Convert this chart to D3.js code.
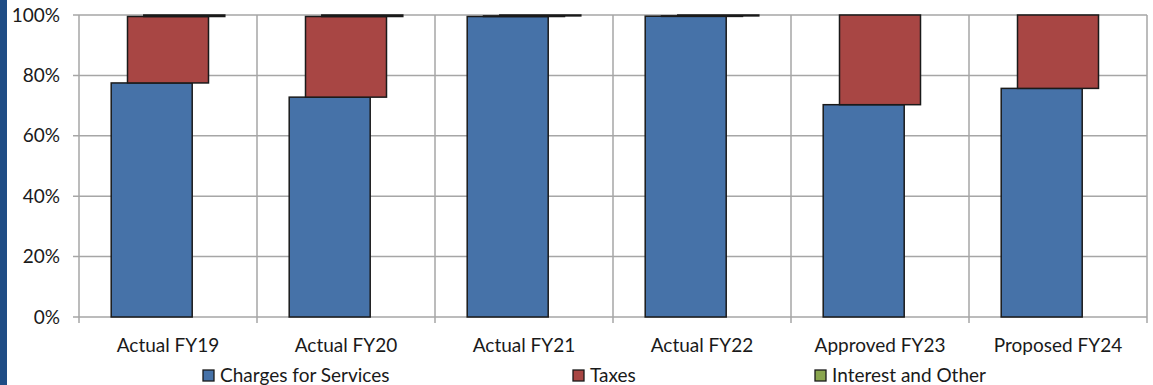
<!DOCTYPE html>
<html><head><meta charset="utf-8">
<script src="https://cdn.jsdelivr.net/npm/d3@7"></script>
<style>
html,body{margin:0;padding:0;background:#fff;}
svg{display:block;}
text{font-family:Lato,"Open Sans",sans-serif;fill:#1a1a1a;}
</style></head>
<body>
<svg id="chart" width="1153" height="385"></svg>
<script>
const categories = ["Actual FY19","Actual FY20","Actual FY21","Actual FY22","Approved FY23","Proposed FY24"];
const seriesNames = ["Charges for Services","Taxes","Interest and Other"];
const charges = [77.5, 72.8, 99.5, 99.6, 70.3, 75.7];
const taxes = [22.0, 26.7, 0.2, 0.1, 29.7, 24.3];
const interest = [0.5, 0.5, 0.3, 0.3, 0, 0];
const yTicks = [0, 20, 40, 60, 80, 100];
const colors = ["#4672a8", "#a84644", "#89a54e"];

(function(){
const svg = d3.select("#chart");
const FONT = 'Lato,"Open Sans",sans-serif';
const FS = "19px";
svg.append("rect").attr("x",0).attr("y",0).attr("width",7).attr("height",385).attr("fill","#1f4d85");

const mLeft = 79, mRight = 1147, mTop = 15, mBottom = 317;
const x = d3.scaleBand().domain(categories).range([mLeft, mRight]).paddingInner(0).paddingOuter(0);
const y = d3.scaleLinear().domain([0, 100]).range([mBottom, mTop]);

const gridColor = "#a6a6a6";
svg.append("g").selectAll("line").data(yTicks).join("line")
  .attr("x1", mLeft - 6).attr("x2", mRight)
  .attr("y1", d => y(d)).attr("y2", d => y(d))
  .attr("stroke", gridColor).attr("stroke-width", 1.5);
const bounds = categories.map(c => x(c)).concat([mRight]);
svg.append("g").selectAll("line").data(bounds).join("line")
  .attr("x1", d => d).attr("x2", d => d)
  .attr("y1", mTop).attr("y2", mBottom + 6)
  .attr("stroke", gridColor).attr("stroke-width", 1.5);

const yAxis = d3.axisLeft(y).tickValues(yTicks).tickFormat(d => d + "%").tickSize(0).tickPadding(0);
const ya = svg.append("g").attr("transform", `translate(${mLeft - 19},0)`).call(yAxis);
ya.select(".domain").remove();
ya.selectAll("text").style("font-size",FS).style("font-family",FONT).attr("fill","#1a1a1a");

const xAxis = d3.axisBottom(x).tickSize(0).tickPadding(0);
const xa = svg.append("g").attr("transform", `translate(0,${mBottom + 21.5})`).call(xAxis);
xa.select(".domain").remove();
xa.selectAll("text").style("font-size",FS).style("font-family",FONT).attr("fill","#1a1a1a");

const rows = categories.map((c, i) => ({cat: c, v: [charges[i], taxes[i], interest[i]]}));
const barW = 81, offset = 16.3;
rows.forEach(r => {
  let base = 0;
  r.v.forEach((val, s) => {
    const cx = x(r.cat) + x.bandwidth() / 2 + (s - 1) * offset;
    const y0 = y(base), y1 = y(base + val);
    base += val;
    if (val <= 0) return;
    svg.append("rect")
      .attr("x", cx - barW / 2).attr("width", barW)
      .attr("y", y1).attr("height", Math.max(0.5, y0 - y1))
      .attr("fill", colors[s]).attr("stroke", "#1a1a1a").attr("stroke-width", 1.5);
  });
});

const legendX = [203, 573, 815];
const lg = svg.append("g");
seriesNames.forEach((n, i) => {
  lg.append("rect").attr("x", legendX[i]).attr("y", 370).attr("width", 11).attr("height", 11)
    .attr("fill", colors[i]).attr("stroke", "#1a1a1a").attr("stroke-width", 1.3);
  lg.append("text").attr("x", legendX[i] + 17).attr("y", 382).style("font-size",FS).style("font-family",FONT).text(n);
});
})();
</script>
</body></html>
